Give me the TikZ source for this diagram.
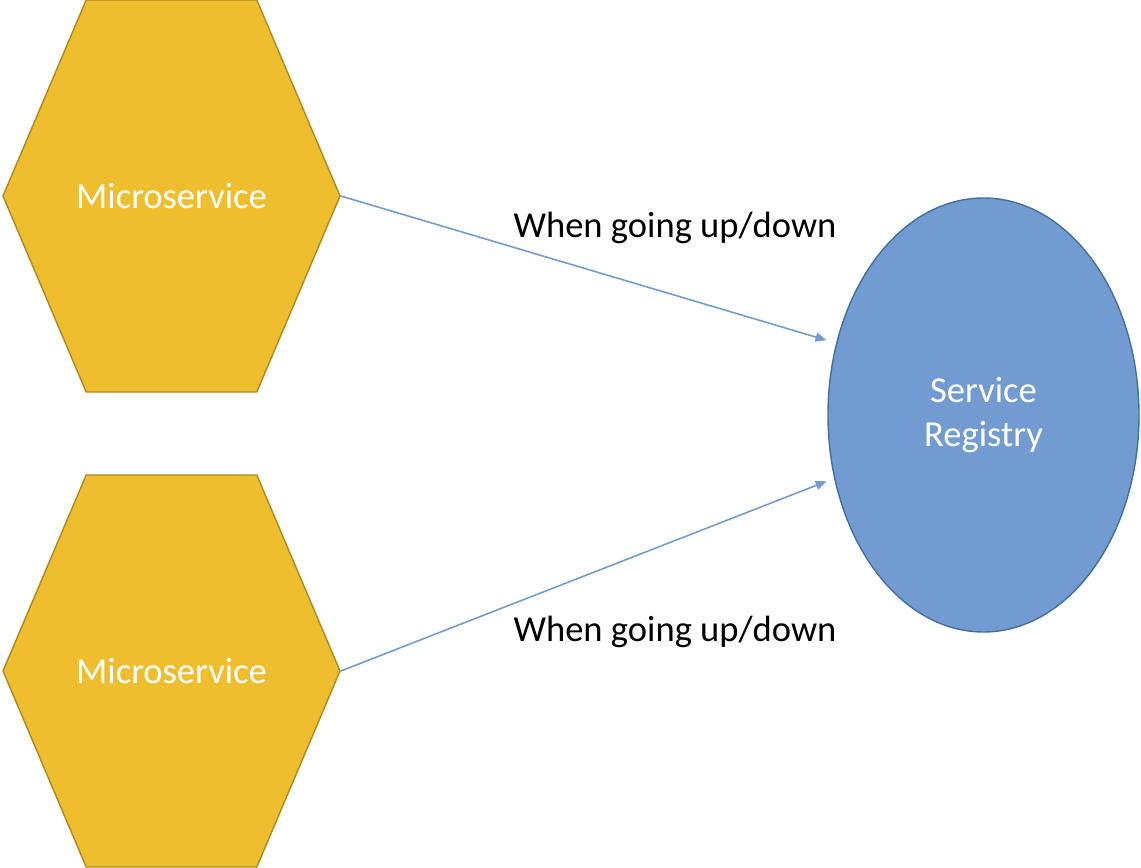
\documentclass[tikz,border=0pt]{standalone}
\usepackage{fontspec}
\setmainfont{Carlito}
\usetikzlibrary{shapes.geometric, shapes.symbols, arrows.meta, positioning}
\definecolor{cGold}{RGB}{238,190,47}
\definecolor{cGoldLine}{RGB}{176,136,28}
\definecolor{cBlue}{RGB}{114,155,210}
\definecolor{cBlueLine}{RGB}{66,112,156}
\tikzset{
	hexa/.style    ={signal, signal to=east and west, signal pointer angle=134, minimum width=6.74cm, minimum height=7.84cm, inner sep=0pt, draw=cGoldLine, line width=0.8pt, fill=cGold},
	hexlbl/.style  ={text=white},
	regnode/.style ={ellipse, minimum width=6.22cm, minimum height=8.68cm, inner sep=0pt, draw=cBlueLine, line width=0.8pt, fill=cBlue, text=white, align=center},
	upflow/.style  ={-{Triangle[length=0.22cm, width=0.18cm]}, line width=0.9pt, draw=cBlue},
	lbl/.style     ={text=black},
}
\begin{document}
\begin{tikzpicture}[font=\fontsize{20.8}{25}\selectfont]
	\useasboundingbox (0,0) rectangle (22.82,-17.36);
	\node[hexa, label={[hexlbl]center:Microservice}] (ms1) at (3.43,-3.92) {};
	\node[hexa, label={[hexlbl]center:Microservice}] (ms2) at (3.43,-13.42) {};
	\node[regnode] (reg) at (19.67,-8.30) {Service\\Registry};
	\draw[upflow, shorten >=0.2cm] (ms1.east) -- (reg.154);
	\draw[upflow, shorten >=0.16cm] (ms2.east) -- (reg.203);
	\node[lbl] (l1) at (13.5,-4.56) {When going up/down};
	\node[lbl] (l2) at (13.5,-12.64) {When going up/down};
\end{tikzpicture}
\end{document}
